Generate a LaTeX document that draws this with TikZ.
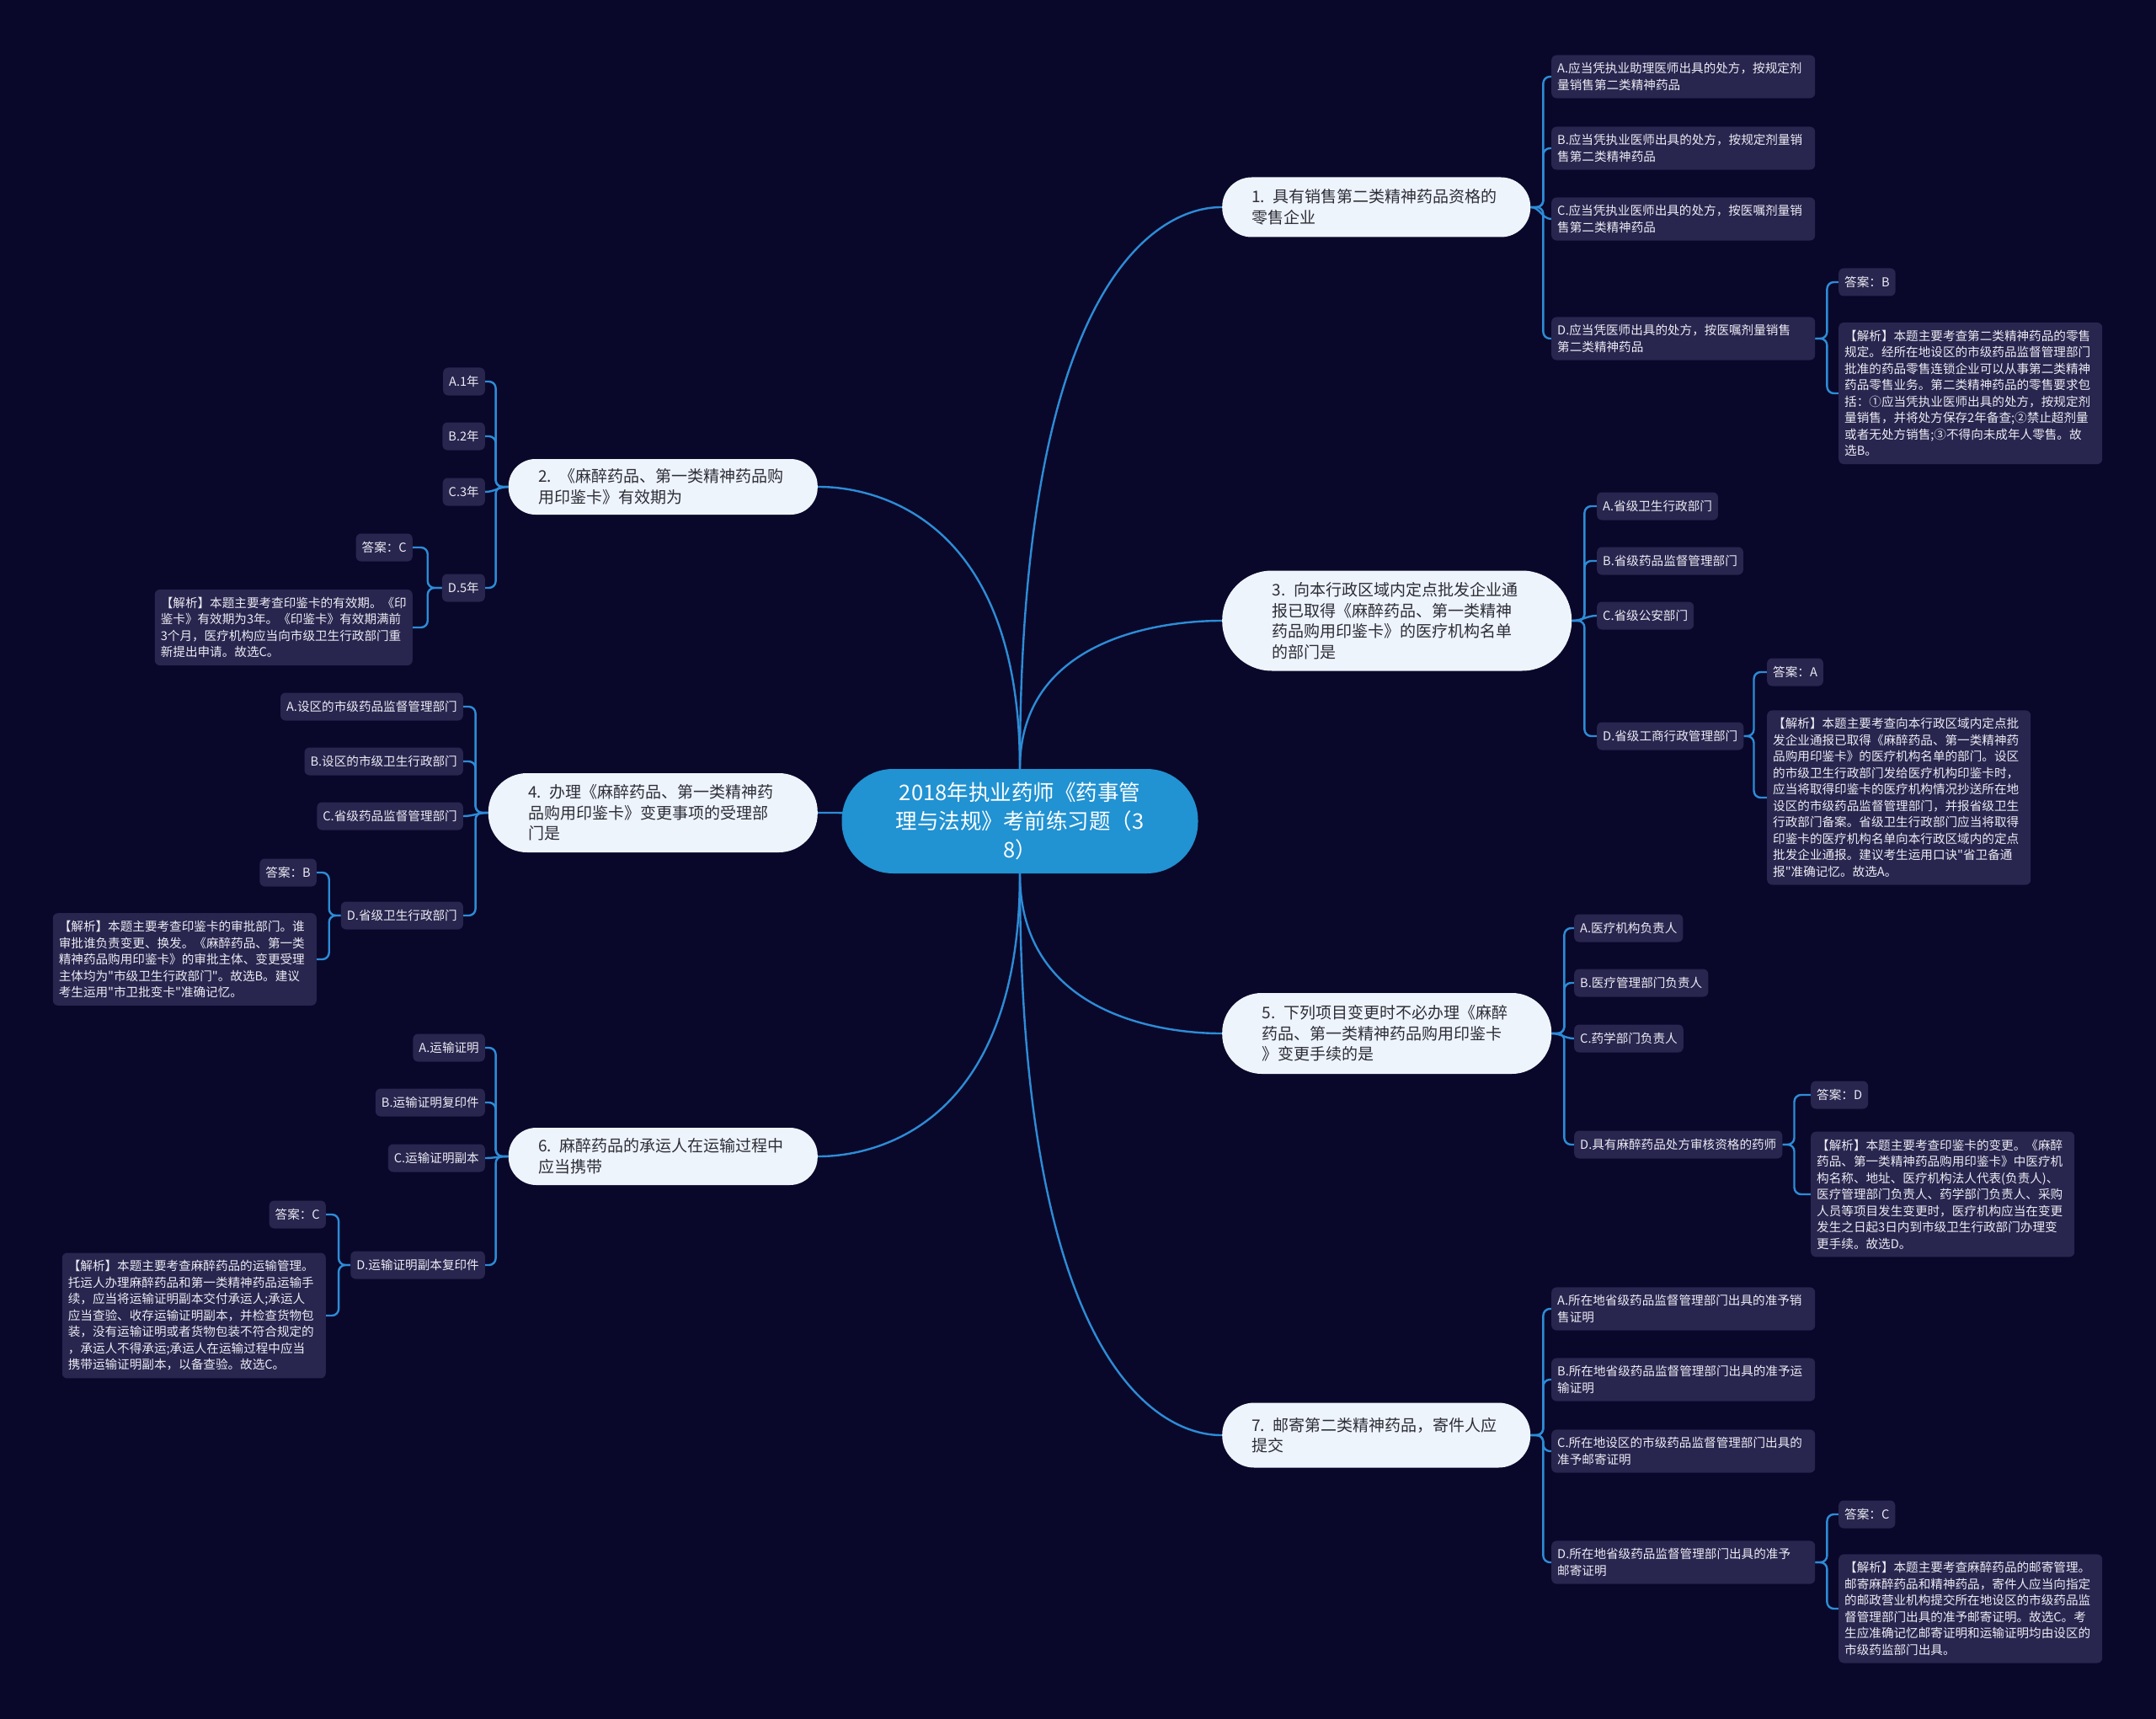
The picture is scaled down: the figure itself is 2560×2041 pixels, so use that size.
\documentclass[tikz,border=0pt]{standalone}
\usepackage{fontspec}
\setmainfont{Noto Sans CJK SC}[Ligatures=TeXOff]
\definecolor{bgnavy}{RGB}{10,8,42}
\definecolor{rootblue}{RGB}{33,146,210}
\definecolor{topicfill}{RGB}{238,244,252}
\definecolor{topicgray}{RGB}{45,45,55}
\definecolor{optfill}{RGB}{40,37,78}
\definecolor{opttext}{RGB}{236,236,244}
\definecolor{linkblue}{RGB}{45,140,215}
\pgfdeclarelayer{back}
\pgfsetlayers{back,main}

\begin{document}
\begin{tikzpicture}[
  x=1pt,y=-1pt,
  root/.style={fill=rootblue,text=white,align=center,minimum width=423pt,minimum height=124pt,rounded corners=61pt,font=\fontsize{25.5}{34}\selectfont},
  topic/.style={fill=topicfill,text=topicgray,align=left,text width=296pt,inner ysep=0pt,font=\fontsize{19}{24.5}\selectfont},
  opt/.style={fill=optfill,text=opttext,align=left,rounded corners=6pt,inner xsep=7pt,inner ysep=9pt,minimum height=33pt,font=\fontsize{14.6}{19.5}\selectfont},
  optwide/.style={opt,text width=299pt},
  link/.style={draw=linkblue,line width=2.4pt},
  elbow/.style={link,rounded corners=8pt}
]
  \begin{pgfonlayer}{back}
    \fill[bgnavy] (0,0) rectangle (2560,2041);
  \end{pgfonlayer}
  \useasboundingbox (0,0) rectangle (2560,2041);

  \node[root] (root) at (1211,975) {2018年执业药师《药事管\\理与法规》考前练习题（3\\8）};

  \node[topic,anchor=west,inner xsep=35pt,minimum height=71pt,rounded corners=35pt] (q1) at (1451,246) {1. 具有销售第二类精神药品资格的\\零售企业};
  \node[topic,anchor=west,inner xsep=59.5pt,minimum height=119pt,rounded corners=59pt] (q3) at (1451,737) {3. 向本行政区域内定点批发企业通\\报已取得《麻醉药品、第一类精神\\药品购用印鉴卡》的医疗机构名单\\的部门是};
  \node[topic,anchor=west,inner xsep=47.5pt,minimum height=96pt,rounded corners=47pt] (q5) at (1451,1227) {5. 下列项目变更时不必办理《麻醉\\药品、第一类精神药品购用印鉴卡\\》变更手续的是};
  \node[topic,anchor=west,inner xsep=35pt,minimum height=77pt,rounded corners=38pt] (q7) at (1451,1704) {7. 邮寄第二类精神药品，寄件人应\\提交};
  \node[topic,anchor=east,inner xsep=35.5pt,minimum height=66pt,rounded corners=32pt] (q2) at (971,578) {2. 《麻醉药品、第一类精神药品购\\用印鉴卡》有效期为};
  \node[topic,anchor=east,inner xsep=47.5pt,minimum height=94pt,rounded corners=46pt] (q4) at (971,965) {4. 办理《麻醉药品、第一类精神药\\品购用印鉴卡》变更事项的受理部\\门是};
  \node[topic,anchor=east,inner xsep=35.5pt,minimum height=68pt,rounded corners=33pt] (q6) at (971,1373) {6. 麻醉药品的承运人在运输过程中\\应当携带};

  \node[optwide,anchor=west] (q1a) at (1842,91) {A.应当凭执业助理医师出具的处方，按规定剂\\量销售第二类精神药品};
  \node[optwide,anchor=west] (q1b) at (1842,176) {B.应当凭执业医师出具的处方，按规定剂量销\\售第二类精神药品};
  \node[optwide,anchor=west] (q1c) at (1842,260) {C.应当凭执业医师出具的处方，按医嘱剂量销\\售第二类精神药品};
  \node[optwide,anchor=west] (q1d) at (1842,402) {D.应当凭医师出具的处方，按医嘱剂量销售\\第二类精神药品};
  \node[opt,anchor=west] (q1ans) at (2183,335) {答案：B};
  \node[optwide,anchor=west] (q1exp) at (2183,467) {【解析】本题主要考查第二类精神药品的零售\\规定。经所在地设区的市级药品监督管理部门\\批准的药品零售连锁企业可以从事第二类精神\\药品零售业务。第二类精神药品的零售要求包\\括：①应当凭执业医师出具的处方，按规定剂\\量销售，并将处方保存2年备查;②禁止超剂量\\或者无处方销售;③不得向未成年人零售。故\\选B。};

  \node[opt,anchor=west] (q3a) at (1896,601) {A.省级卫生行政部门};
  \node[opt,anchor=west] (q3b) at (1896,666) {B.省级药品监督管理部门};
  \node[opt,anchor=west] (q3c) at (1896,731) {C.省级公安部门};
  \node[opt,anchor=west] (q3d) at (1896,874) {D.省级工商行政管理部门};
  \node[opt,anchor=west] (q3ans) at (2098,798) {答案：A};
  \node[optwide,anchor=west] (q3exp) at (2098,947) {【解析】本题主要考查向本行政区域内定点批\\发企业通报已取得《麻醉药品、第一类精神药\\品购用印鉴卡》的医疗机构名单的部门。设区\\的市级卫生行政部门发给医疗机构印鉴卡时，\\应当将取得印鉴卡的医疗机构情况抄送所在地\\设区的市级药品监督管理部门，并报省级卫生\\行政部门备案。省级卫生行政部门应当将取得\\印鉴卡的医疗机构名单向本行政区域内的定点\\批发企业通报。建议考生运用口诀"省卫备通\\报"准确记忆。故选A。};

  \node[opt,anchor=west] (q5a) at (1869,1102) {A.医疗机构负责人};
  \node[opt,anchor=west] (q5b) at (1869,1167) {B.医疗管理部门负责人};
  \node[opt,anchor=west] (q5c) at (1869,1233) {C.药学部门负责人};
  \node[opt,anchor=west] (q5d) at (1869,1359) {D.具有麻醉药品处方审核资格的药师};
  \node[opt,anchor=west] (q5ans) at (2150,1300) {答案：D};
  \node[optwide,anchor=west] (q5exp) at (2150,1418) {【解析】本题主要考查印鉴卡的变更。《麻醉\\药品、第一类精神药品购用印鉴卡》中医疗机\\构名称、地址、医疗机构法人代表(负责人)、\\医疗管理部门负责人、药学部门负责人、采购\\人员等项目发生变更时，医疗机构应当在变更\\发生之日起3日内到市级卫生行政部门办理变\\更手续。故选D。};

  \node[optwide,anchor=west] (q7a) at (1842,1554) {A.所在地省级药品监督管理部门出具的准予销\\售证明};
  \node[optwide,anchor=west] (q7b) at (1842,1638) {B.所在地省级药品监督管理部门出具的准予运\\输证明};
  \node[optwide,anchor=west] (q7c) at (1842,1723) {C.所在地设区的市级药品监督管理部门出具的\\准予邮寄证明};
  \node[optwide,anchor=west] (q7d) at (1842,1855) {D.所在地省级药品监督管理部门出具的准予\\邮寄证明};
  \node[opt,anchor=west] (q7ans) at (2183,1798) {答案：C};
  \node[optwide,anchor=west] (q7exp) at (2183,1910) {【解析】本题主要考查麻醉药品的邮寄管理。\\邮寄麻醉药品和精神药品，寄件人应当向指定\\的邮政营业机构提交所在地设区的市级药品监\\督管理部门出具的准予邮寄证明。故选C。考\\生应准确记忆邮寄证明和运输证明均由设区的\\市级药监部门出具。};

  \node[opt,anchor=east] (q2a) at (576,453) {A.1年};
  \node[opt,anchor=east] (q2b) at (576,518) {B.2年};
  \node[opt,anchor=east] (q2c) at (576,584) {C.3年};
  \node[opt,anchor=east] (q2d) at (576,698) {D.5年};
  \node[opt,anchor=east] (q2ans) at (490,650) {答案：C};
  \node[opt,anchor=east,text width=292pt] (q2exp) at (490,745) {【解析】本题主要考查印鉴卡的有效期。《印\\鉴卡》有效期为3年。《印鉴卡》有效期满前\\3个月，医疗机构应当向市级卫生行政部门重\\新提出申请。故选C。};

  \node[opt,anchor=east] (q4a) at (550,839) {A.设区的市级药品监督管理部门};
  \node[opt,anchor=east] (q4b) at (550,904) {B.设区的市级卫生行政部门};
  \node[opt,anchor=east] (q4c) at (550,969) {C.省级药品监督管理部门};
  \node[opt,anchor=east] (q4d) at (550,1087) {D.省级卫生行政部门};
  \node[opt,anchor=east] (q4ans) at (376,1036) {答案：B};
  \node[optwide,anchor=east] (q4exp) at (376,1139) {【解析】本题主要考查印鉴卡的审批部门。谁\\审批谁负责变更、换发。《麻醉药品、第一类\\精神药品购用印鉴卡》的审批主体、变更受理\\主体均为"市级卫生行政部门"。故选B。建议\\考生运用"市卫批变卡"准确记忆。};

  \node[opt,anchor=east] (q6a) at (576,1244) {A.运输证明};
  \node[opt,anchor=east] (q6b) at (576,1309) {B.运输证明复印件};
  \node[opt,anchor=east] (q6c) at (576,1375) {C.运输证明副本};
  \node[opt,anchor=east] (q6d) at (576,1502) {D.运输证明副本复印件};
  \node[opt,anchor=east] (q6ans) at (387,1442) {答案：C};
  \node[optwide,anchor=east] (q6exp) at (387,1562) {【解析】本题主要考查麻醉药品的运输管理。\\托运人办理麻醉药品和第一类精神药品运输手\\续，应当将运输证明副本交付承运人;承运人\\应当查验、收存运输证明副本，并检查货物包\\装，没有运输证明或者货物包装不符合规定的\\，承运人不得承运;承运人在运输过程中应当\\携带运输证明副本，以备查验。故选C。};

  \begin{pgfonlayer}{back}
    \draw[link] (root.north) .. controls (root.north |- q1.west) and +(-24,0) .. (q1.west);
    \draw[link] (root.north) .. controls (root.north |- q3.west) and +(-24,0) .. (q3.west);
    \draw[link] (root.south) .. controls (root.south |- q5.west) and +(-24,0) .. (q5.west);
    \draw[link] (root.south) .. controls (root.south |- q7.west) and +(-24,0) .. (q7.west);
    \draw[link] (root.north) .. controls (root.north |- q2.east) and +(24,0) .. (q2.east);
    \draw[link] (root.center) .. controls (root.center |- q4.east) and +(24,0) .. (q4.east);
    \draw[link] (root.south) .. controls (root.south |- q6.east) and +(24,0) .. (q6.east);

    \draw[elbow] (q1.east) -- ++(15,0) |- (q1a.west);
    \draw[elbow] (q1.east) -- ++(15,0) |- (q1b.west);
    \draw[link] (q1.east) to[out=0,in=180] (q1c.west);
    \draw[elbow] (q1.east) -- ++(15,0) |- (q1d.west);
    \draw[elbow] (q1d.east) -- ++(14,0) |- (q1ans.west);
    \draw[elbow] (q1d.east) -- ++(14,0) |- (q1exp.west);

    \draw[elbow] (q3.east) -- ++(15,0) |- (q3a.west);
    \draw[elbow] (q3.east) -- ++(15,0) |- (q3b.west);
    \draw[link] (q3.east) to[out=0,in=180] (q3c.west);
    \draw[elbow] (q3.east) -- ++(15,0) |- (q3d.west);
    \draw[elbow] (q3d.east) -- ++(12,0) |- (q3ans.west);
    \draw[elbow] (q3d.east) -- ++(12,0) |- (q3exp.west);

    \draw[elbow] (q5.east) -- ++(15,0) |- (q5a.west);
    \draw[elbow] (q5.east) -- ++(15,0) |- (q5b.west);
    \draw[link] (q5.east) to[out=0,in=180] (q5c.west);
    \draw[elbow] (q5.east) -- ++(15,0) |- (q5d.west);
    \draw[elbow] (q5d.east) -- ++(14,0) |- (q5ans.west);
    \draw[elbow] (q5d.east) -- ++(14,0) |- (q5exp.west);

    \draw[elbow] (q7.east) -- ++(15,0) |- (q7a.west);
    \draw[elbow] (q7.east) -- ++(15,0) |- (q7b.west);
    \draw[elbow] (q7.east) -- ++(15,0) |- (q7c.west);
    \draw[elbow] (q7.east) -- ++(15,0) |- (q7d.west);
    \draw[elbow] (q7d.east) -- ++(14,0) |- (q7ans.west);
    \draw[elbow] (q7d.east) -- ++(14,0) |- (q7exp.west);

    \draw[elbow] (q2.west) -- ++(-15,0) |- (q2a.east);
    \draw[elbow] (q2.west) -- ++(-15,0) |- (q2b.east);
    \draw[link] (q2.west) to[out=180,in=0] (q2c.east);
    \draw[elbow] (q2.west) -- ++(-15,0) |- (q2d.east);
    \draw[elbow] (q2d.west) -- ++(-17,0) |- (q2ans.east);
    \draw[elbow] (q2d.west) -- ++(-17,0) |- (q2exp.east);

    \draw[elbow] (q4.west) -- ++(-15,0) |- (q4a.east);
    \draw[elbow] (q4.west) -- ++(-15,0) |- (q4b.east);
    \draw[link] (q4.west) to[out=180,in=0] (q4c.east);
    \draw[elbow] (q4.west) -- ++(-15,0) |- (q4d.east);
    \draw[elbow] (q4d.west) -- ++(-14,0) |- (q4ans.east);
    \draw[elbow] (q4d.west) -- ++(-14,0) |- (q4exp.east);

    \draw[elbow] (q6.west) -- ++(-15,0) |- (q6a.east);
    \draw[elbow] (q6.west) -- ++(-15,0) |- (q6b.east);
    \draw[link] (q6.west) to[out=180,in=0] (q6c.east);
    \draw[elbow] (q6.west) -- ++(-15,0) |- (q6d.east);
    \draw[elbow] (q6d.west) -- ++(-14,0) |- (q6ans.east);
    \draw[elbow] (q6d.west) -- ++(-14,0) |- (q6exp.east);
  \end{pgfonlayer}
\end{tikzpicture}
\end{document}
